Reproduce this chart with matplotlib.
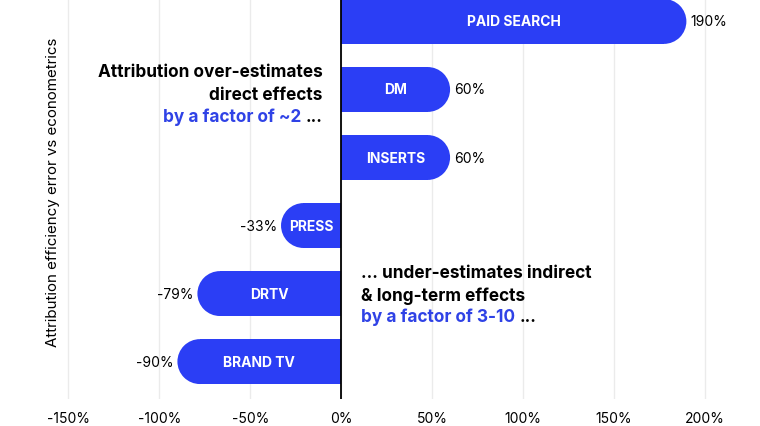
import numpy as np
import matplotlib.pyplot as plt
from matplotlib.patches import Ellipse

plt.rcParams['font.family'] = ['Inter', 'DejaVu Sans']

channels = ['BRAND TV', 'DRTV', 'PRESS', 'INSERTS', 'DM', 'PAID SEARCH']
errors = [-90, -79, -33, 60, 60, 190]
xticks = [-150, -100, -50, 0, 50, 100, 150, 200]

blue = '#2b3ef5'
txt_blue = '#2f42e6'

fig = plt.figure(figsize=(7.6, 4.27), dpi=100)
# axes in pixel terms: x 60..740, y 0..400 (from top)
ax = fig.add_axes([60/760, 27/427, 680/760, 400/427])
ax.set_xlim(-154.6, 219.5)
ax.set_ylim(-0.55, 5.33)

h = 0.66
# radius of the round end in data units (px -> %)
px_per_x = 680 / (219.5 + 154.6)
r = (h * 400 / 5.88) / 2 / px_per_x

y = np.arange(len(channels))
for yi, v, name in zip(y, errors, channels):
    s = np.sign(v)
    ax.barh(yi, v - s * r, height=h, color=blue, zorder=3)
    ax.add_patch(Ellipse((v - s * r, yi), 2 * r, h, color=blue, zorder=3, lw=0))
    ax.text(v / 2, yi, name, ha='center', va='center',
            color='white', fontsize=10, fontweight='bold', zorder=4)
    if v > 0:
        ax.text(v + 2, yi, f'{v}%', ha='left', va='center', fontsize=10, zorder=4)
    else:
        ax.text(v - 2, yi, f'{v}%', ha='right', va='center', fontsize=10, zorder=4)

ax.set_xticks(xticks)
ax.set_xticklabels([f'{t}%' for t in xticks], fontsize=10)
ax.tick_params(axis='x', length=0, pad=9)
ax.set_yticks([])
ax.grid(axis='x', color='#ebebeb', lw=1, zorder=0)
for sp in ax.spines.values():
    sp.set_visible(False)
ax.axvline(0, color='black', lw=1.3, zorder=5)

ax.set_ylabel('Attribution efficiency error vs econometrics', fontsize=10.9)
ax.yaxis.set_label_coords(0.0, 0.52)

# annotation top-left
fs = 12.4
ax.text(-10, 4.26, 'Attribution over-estimates', ha='right', va='center',
        fontsize=fs, fontweight='bold')
ax.text(-10, 3.93, 'direct effects', ha='right', va='center',
        fontsize=fs, fontweight='bold')
dots = ax.text(-10, 3.61, '...', ha='right', va='center',
               fontsize=fs, fontweight='bold')
ax.annotate('by a factor of ~2', xy=(0, 0.5), xycoords=dots,
            xytext=(-3, 0), textcoords='offset points', ha='right', va='center',
            fontsize=fs, fontweight='bold', color=txt_blue)

# annotation bottom-right
ax.text(11, 1.31, '... under-estimates indirect', ha='left', va='center',
        fontsize=fs, fontweight='bold')
ax.text(11, 0.98, '& long-term effects', ha='left', va='center',
        fontsize=fs, fontweight='bold')
fac = ax.text(11, 0.66, 'by a factor of 3-10', ha='left', va='center',
              fontsize=fs, fontweight='bold', color=txt_blue)
ax.annotate('...', xy=(1, 0.5), xycoords=fac,
            xytext=(3, 0), textcoords='offset points', ha='left', va='center',
            fontsize=fs, fontweight='bold')

fig.savefig('out.png', dpi=100)
